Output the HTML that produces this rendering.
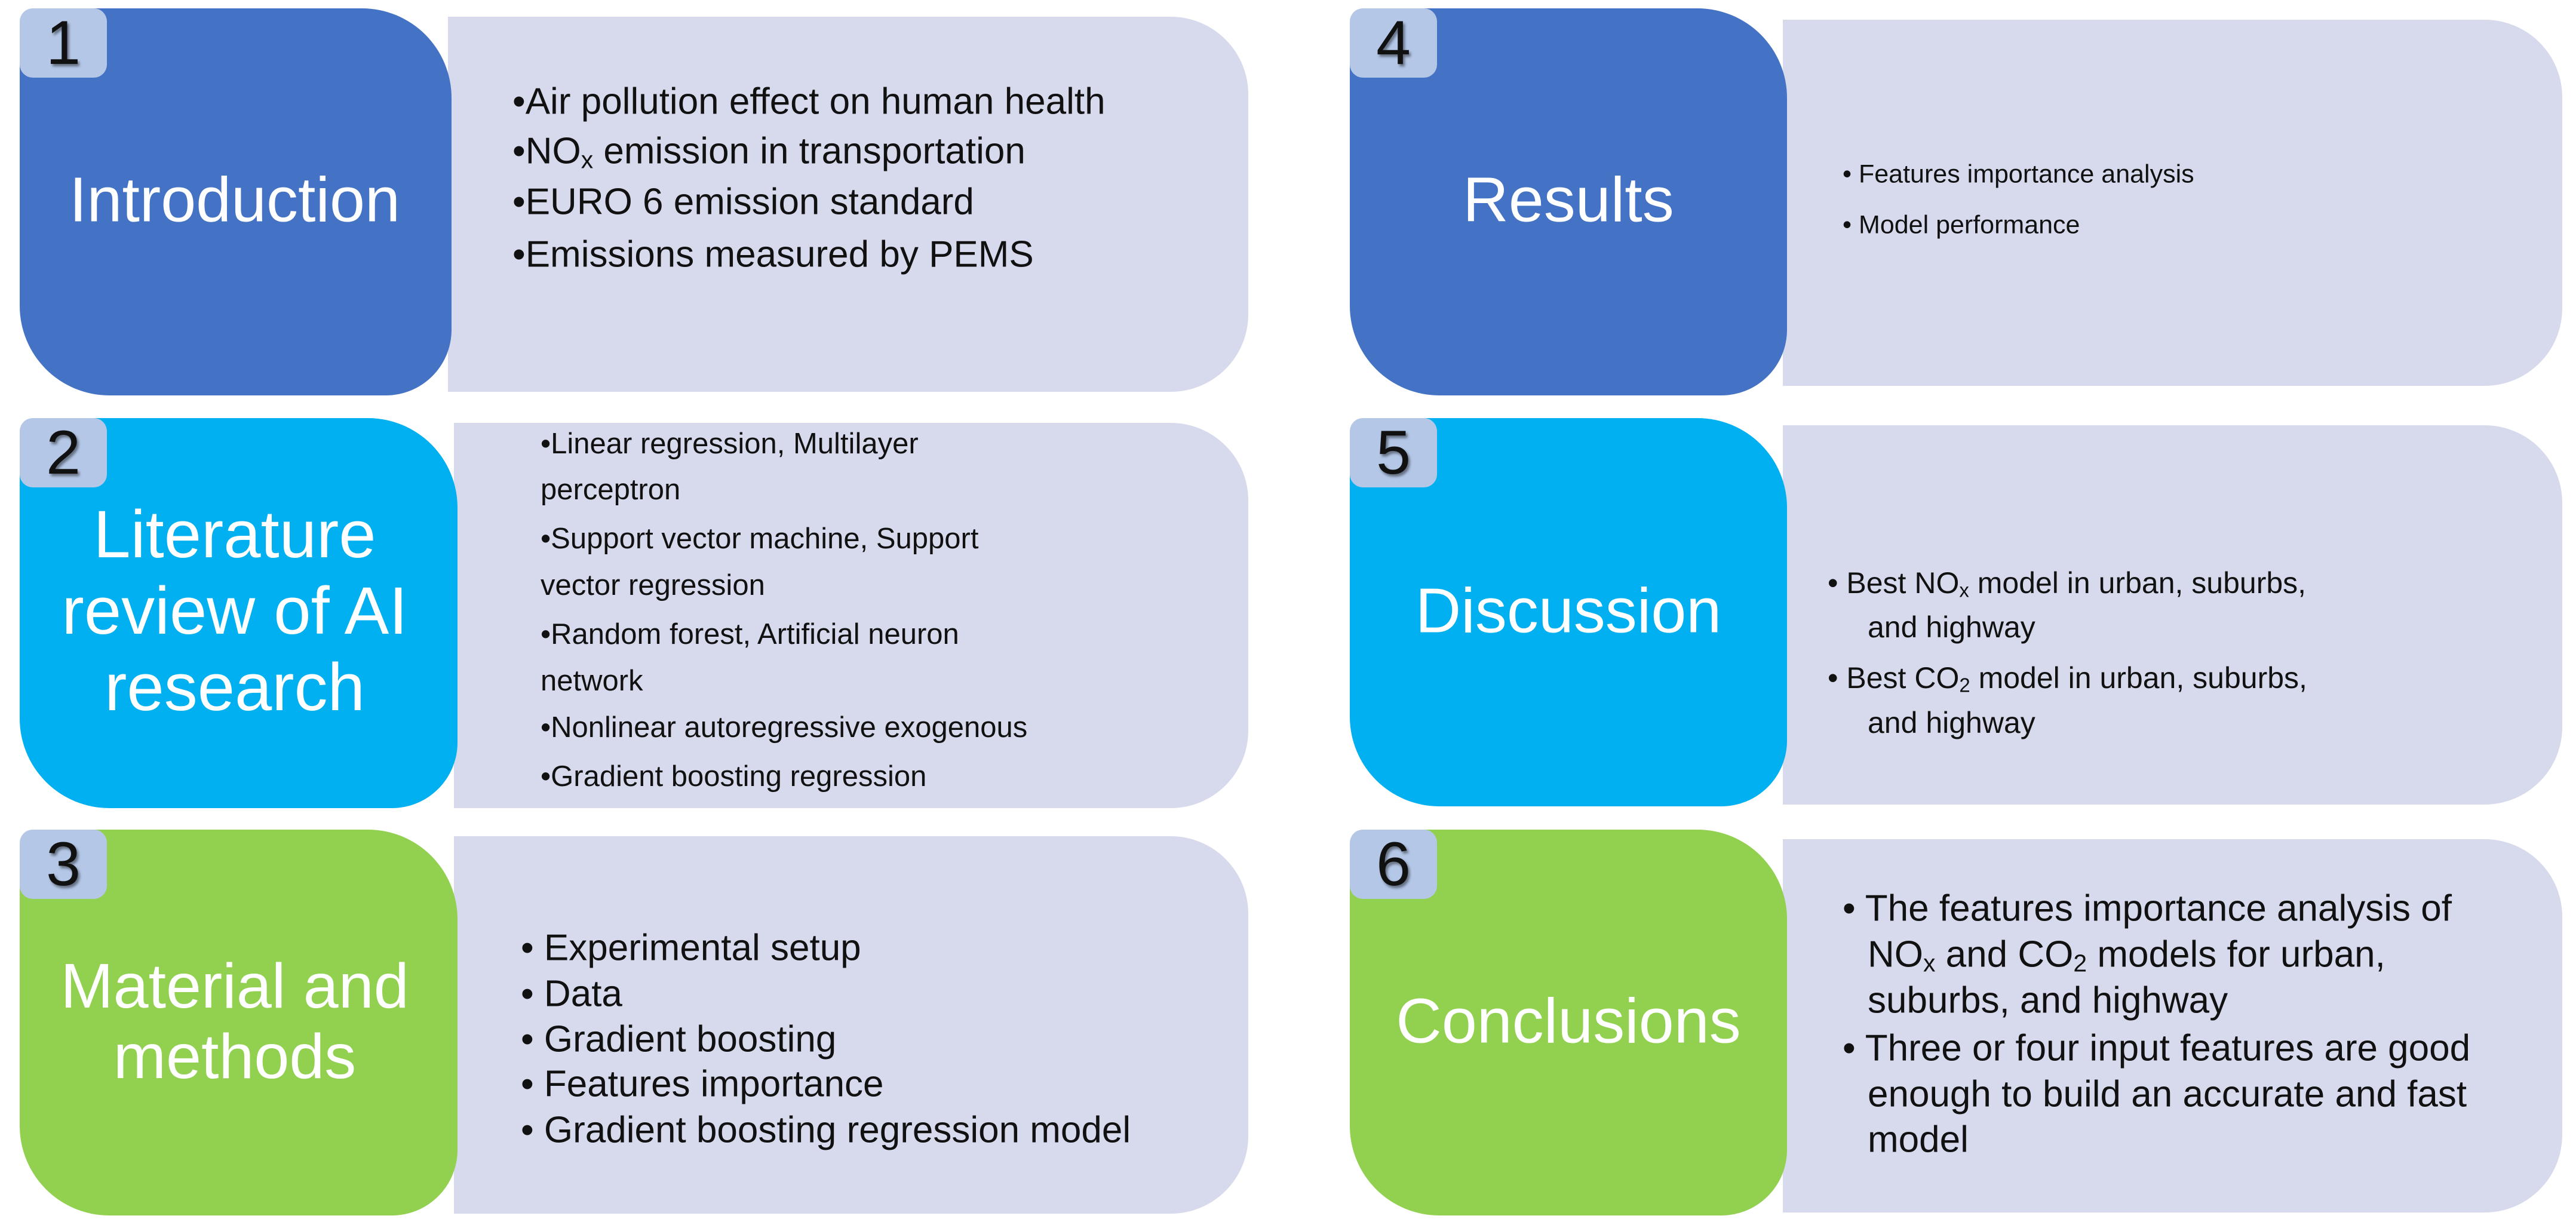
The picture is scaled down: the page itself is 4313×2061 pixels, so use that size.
<!DOCTYPE html>
<html><head><meta charset="utf-8"><style>
body{margin:0;width:4313px;height:2061px;background:#fff;position:relative;overflow:hidden;font-family:"Liberation Sans",sans-serif}
.c{position:absolute;border-radius:40px 150px 110px 150px}
.l{position:absolute;background:#D6DAEC;border-radius:0 130px 130px 0}
.b{position:absolute;width:146px;height:116px;background:#B4C7E7;border-radius:22px;font-size:104px;color:#111;text-align:center;line-height:116px;text-shadow:3px 4px 4px rgba(0,0,0,.45)}
.t{position:absolute;color:#fff;font-size:106px;text-align:center;line-height:123px;transform:translate(-50%,-50%);white-space:nowrap}
.x{position:absolute;font-size:48px;color:#111;white-space:nowrap;transform:translateY(-50%)}
sub{font-size:0.66em;vertical-align:-0.2em;line-height:0}
.r1 .x,.r3 .x,.r6 .x{font-size:62px}
.r2 .x{font-size:49px}
.r4 .x{font-size:43px}
.r5 .x{font-size:50px}
</style></head><body>
<div class="r1">
<div class="l" style="left:750px;top:28px;width:1340px;height:628px"></div>
<div class="c" style="left:33px;top:14px;width:723px;height:648px;background:#4472C4"></div>
<div class="b" style="left:33px;top:14px">1</div>
<div class="t" style="left:393px;top:335px">Introduction</div>
<div class="x" style="left:858px;top:170px">•Air pollution effect on human health</div>
<div class="x" style="left:858px;top:253px">•NO<sub>x</sub> emission in transportation</div>
<div class="x" style="left:858px;top:338px">•EURO 6 emission standard</div>
<div class="x" style="left:858px;top:426px">•Emissions measured by PEMS</div>
</div>
<div class="r2">
<div class="l" style="left:760px;top:708px;width:1330px;height:645px"></div>
<div class="c" style="left:33px;top:700px;width:733px;height:653px;background:#00B0F0"></div>
<div class="b" style="left:33px;top:700px">2</div>
<div class="t" style="left:393px;top:1023px;font-size:112px;line-height:128px">Literature<br>review of AI<br>research</div>
<div class="x" style="left:905px;top:743px">•Linear regression, Multilayer</div>
<div class="x" style="left:905px;top:820px">perceptron</div>
<div class="x" style="left:905px;top:902px">•Support vector machine, Support</div>
<div class="x" style="left:905px;top:980px">vector regression</div>
<div class="x" style="left:905px;top:1062px">•Random forest, Artificial neuron</div>
<div class="x" style="left:905px;top:1140px">network</div>
<div class="x" style="left:905px;top:1218px">•Nonlinear autoregressive exogenous</div>
<div class="x" style="left:905px;top:1300px">•Gradient boosting regression</div>
</div>
<div class="r3">
<div class="l" style="left:760px;top:1400px;width:1330px;height:632px"></div>
<div class="c" style="left:33px;top:1389px;width:733px;height:646px;background:#92D050"></div>
<div class="b" style="left:33px;top:1389px">3</div>
<div class="t" style="left:393px;top:1710px;line-height:118px">Material and<br>methods</div>
<div class="x" style="left:872px;top:1587px">• Experimental setup</div>
<div class="x" style="left:872px;top:1664px">• Data</div>
<div class="x" style="left:872px;top:1740px">• Gradient boosting</div>
<div class="x" style="left:872px;top:1815px">• Features importance</div>
<div class="x" style="left:872px;top:1892px">• Gradient boosting regression model</div>
</div>
<div class="r4">
<div class="l" style="left:2985px;top:33px;width:1305px;height:613px"></div>
<div class="c" style="left:2260px;top:14px;width:732px;height:648px;background:#4472C4"></div>
<div class="b" style="left:2260px;top:14px">4</div>
<div class="t" style="left:2626px;top:335px">Results</div>
<div class="x" style="left:3085px;top:292px">• Features importance analysis</div>
<div class="x" style="left:3085px;top:377px">• Model performance</div>
</div>
<div class="r5">
<div class="l" style="left:2985px;top:712px;width:1305px;height:635px"></div>
<div class="c" style="left:2260px;top:700px;width:732px;height:650px;background:#00B0F0"></div>
<div class="b" style="left:2260px;top:700px">5</div>
<div class="t" style="left:2626px;top:1023px">Discussion</div>
<div class="x" style="left:3060px;top:976px">• Best NO<sub>x</sub> model in urban, suburbs,</div>
<div class="x" style="left:3127px;top:1050px">and highway</div>
<div class="x" style="left:3060px;top:1135px">• Best CO<sub>2</sub> model in urban, suburbs,</div>
<div class="x" style="left:3127px;top:1210px">and highway</div>
</div>
<div class="r6">
<div class="l" style="left:2985px;top:1405px;width:1305px;height:625px"></div>
<div class="c" style="left:2260px;top:1389px;width:732px;height:646px;background:#92D050"></div>
<div class="b" style="left:2260px;top:1389px">6</div>
<div class="t" style="left:2626px;top:1710px">Conclusions</div>
<div class="x" style="left:3085px;top:1521px">• The features importance analysis of</div>
<div class="x" style="left:3127px;top:1598px">NO<sub>x</sub> and CO<sub>2</sub> models for urban,</div>
<div class="x" style="left:3127px;top:1675px">suburbs, and highway</div>
<div class="x" style="left:3085px;top:1755px">• Three or four input features are good</div>
<div class="x" style="left:3127px;top:1832px">enough to build an accurate and fast</div>
<div class="x" style="left:3127px;top:1908px">model</div>
</div>
</body></html>
